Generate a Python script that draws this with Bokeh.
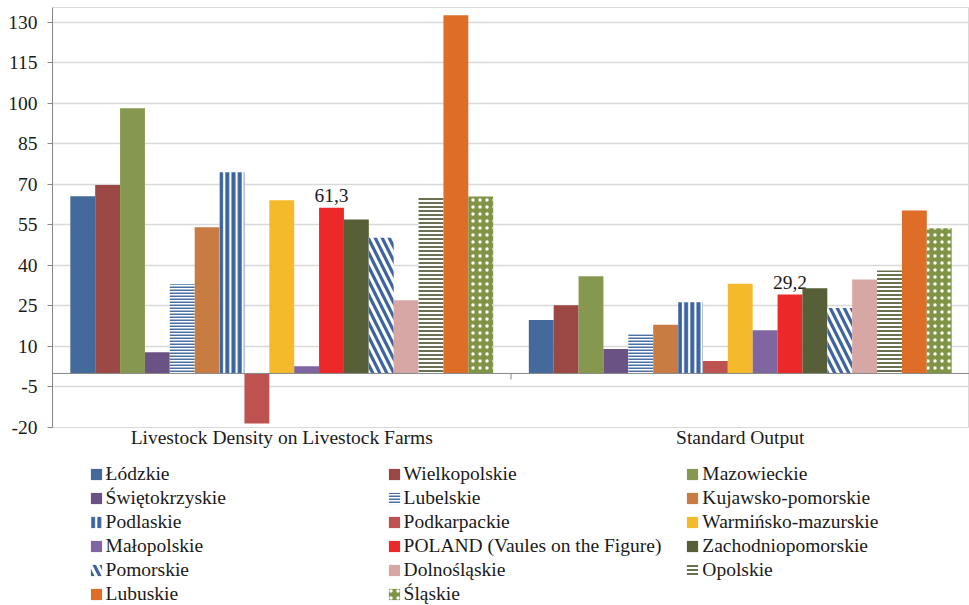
from bokeh.plotting import figure
from bokeh.layouts import column
from bokeh.models import (FactorRange, ColumnDataSource, Legend, LegendItem,
                          FixedTicker, Span, Range1d)
from bokeh.transform import dodge
from bokeh.core.properties import value
from bokeh.embed import file_html
from bokeh.resources import INLINE

categories = ["Livestock Density on Livestock Farms", "Standard Output"]
regions = ["Łódzkie", "Wielkopolskie", "Mazowieckie", "Świętokrzyskie", "Lubelskie",
           "Kujawsko-pomorskie", "Podlaskie", "Podkarpackie", "Warmińsko-mazurskie",
           "Małopolskie", "POLAND (Vaules on the Figure)", "Zachodniopomorskie",
           "Pomorskie", "Dolnośląskie", "Opolskie", "Lubuskie", "Śląskie"]
livestock_density = [65.6, 69.7, 98.1, 7.8, 33.0, 54.1, 74.4, -18.5, 64.1, 2.7,
                     61.3, 57.0, 50.2, 27.1, 65.6, 132.5, 65.5]
standard_output = [19.8, 25.2, 36.0, 9.0, 14.5, 18.0, 26.3, 4.6, 33.2, 16.0,
                   29.2, 31.5, 24.2, 34.8, 38.1, 60.3, 53.7]
y_ticks = [-20, -5, 10, 25, 40, 55, 70, 85, 100, 115, 130]
labeled_region = "POLAND (Vaules on the Figure)"

colors = ["#44699B", "#9B4743", "#86984F", "#6B5285", "#4A6FA5", "#C97C41",
          "#3A64A3", "#BD5251", "#F5BA2B", "#8066A0", "#EC2828", "#565F37",
          "#3D64A0", "#D7A7A6", "#687052", "#DE6D28", "#7F9545"]
# (pattern, fill, scale, weight) for patterned series
patterns = {
    "Lubelskie": ("horizontal_line", "white", 3, 2),
    "Podlaskie": ("vertical_line", "white", 6.2, 4),
    "Pomorskie": ("left_diagonal_line", "white", 14, 3.2),
    "Opolskie": ("horizontal_line", "white", 4, 2),
    "Śląskie": ("dot", "#7F9545", 7, 0.8),
}

FONT = "Liberation Serif"
FS = "19.5px"
n = len(regions)
bar_w = 0.05425
W = 969
MAIN_H = 455
LEG_H = 605 - MAIN_H


def style(i):
    reg = regions[i]
    if reg in patterns:
        pat, fill, sc, wt = patterns[reg]
        return dict(fill_color=fill, hatch_pattern=pat,
                    hatch_color=colors[i] if fill == "white" else "white",
                    hatch_scale=sc, hatch_weight=wt, line_color=None)
    return dict(fill_color=colors[i], line_color=None)


p = figure(x_range=FactorRange(*categories), y_range=Range1d(-20, 135.4),
           width=W, height=MAIN_H, output_backend="svg", toolbar_location=None,
           min_border_left=52, min_border_right=0, min_border_top=7,
           min_border_bottom=MAIN_H - 427, background_fill_color="white",
           border_fill_color="white")
p.outline_line_color = "#D9D9D9"

# legend figure: same bars drawn far outside its visible y range, only legend shows
lf = figure(width=W, height=LEG_H, output_backend="svg", toolbar_location=None,
            x_range=p.x_range, y_range=Range1d(1000, 1001),
            x_axis_type=None, y_axis_type=None, min_border=0,
            background_fill_color="white", border_fill_color="white")
lf.outline_line_color = None
lf.xgrid.visible = False
lf.ygrid.visible = False

legend_items = []
for i, reg in enumerate(regions):
    src = ColumnDataSource(dict(cat=categories,
                                val=[livestock_density[i], standard_output[i]]))
    off = (i - (n - 1) / 2) * bar_w
    p.vbar(x=dodge("cat", off, range=p.x_range), top="val", bottom=0,
           width=bar_w, source=src, **style(i))
    r = lf.vbar(x=dodge("cat", off, range=p.x_range), top="val", bottom=0,
                width=bar_w, source=src, **style(i))
    legend_items.append(LegendItem(label=reg, renderers=[r]))
    if reg == labeled_region:
        vals = [livestock_density[i], standard_output[i]]
        lsrc = ColumnDataSource(dict(cat=categories, val=vals,
                                     txt=[f"{v:.1f}".replace(".", ",") for v in vals]))
        p.text(x=dodge("cat", off, range=p.x_range), y="val", text="txt", source=lsrc,
               text_align="center", text_baseline="alphabetic", y_offset=-12,
               text_font=value(FONT), text_font_size=FS, text_color="#1a1a1a")

p.add_layout(Span(location=0, dimension="width", line_color="#868686", line_width=1))

# category-boundary tick of the horizontal axis (between the two groups)
tick_len = 2.2
tsrc = ColumnDataSource(dict(cat=categories[1:], y0=[0], y1=[-tick_len]))
p.segment(x0=dodge("cat", -0.5, range=p.x_range), x1=dodge("cat", -0.5, range=p.x_range),
          y0="y0", y1="y1", source=tsrc, line_color="#868686", line_width=1)

p.xgrid.grid_line_color = None
p.ygrid.ticker = FixedTicker(ticks=y_ticks)
p.ygrid.grid_line_color = "#D9D9D9"
p.ygrid.grid_line_width = 1.3

p.yaxis.ticker = FixedTicker(ticks=y_ticks)
p.yaxis.major_label_overrides = {t: str(t) for t in y_ticks}
p.yaxis.axis_line_color = "#868686"
p.yaxis.major_tick_line_color = "#868686"
p.yaxis.major_tick_out = 5
p.yaxis.major_tick_in = 0
p.yaxis.minor_tick_line_color = None
p.yaxis.major_label_standoff = 10
p.yaxis.major_label_text_font = FONT
p.yaxis.major_label_text_font_size = FS
p.yaxis.major_label_text_color = "#1a1a1a"

p.xaxis.axis_line_color = None
p.xaxis.major_tick_line_color = None
p.xaxis.minor_tick_line_color = None
p.xaxis.major_label_standoff = -7
p.xaxis.major_label_text_font = FONT
p.xaxis.major_label_text_font_size = FS
p.xaxis.major_label_text_color = "#1a1a1a"

# three legend columns, filled row by row
col_x = [36.6, 334.6, 633.3]
row_h = 24
n_rows = 6
for c in range(3):
    its = legend_items[c::3]
    lg = Legend(items=its, location=(col_x[c], (n_rows - len(its)) * row_h - 1),
                orientation="vertical", glyph_width=14, glyph_height=14,
                label_standoff=3, label_height=row_h, spacing=0, padding=0, margin=0,
                border_line_color=None, background_fill_alpha=0,
                label_text_font=FONT, label_text_font_size=FS,
                label_text_color="#1a1a1a")
    lf.add_layout(lg)

layout = column(p, lf, spacing=0)
open("out.html", "w").write(file_html(layout, INLINE))
